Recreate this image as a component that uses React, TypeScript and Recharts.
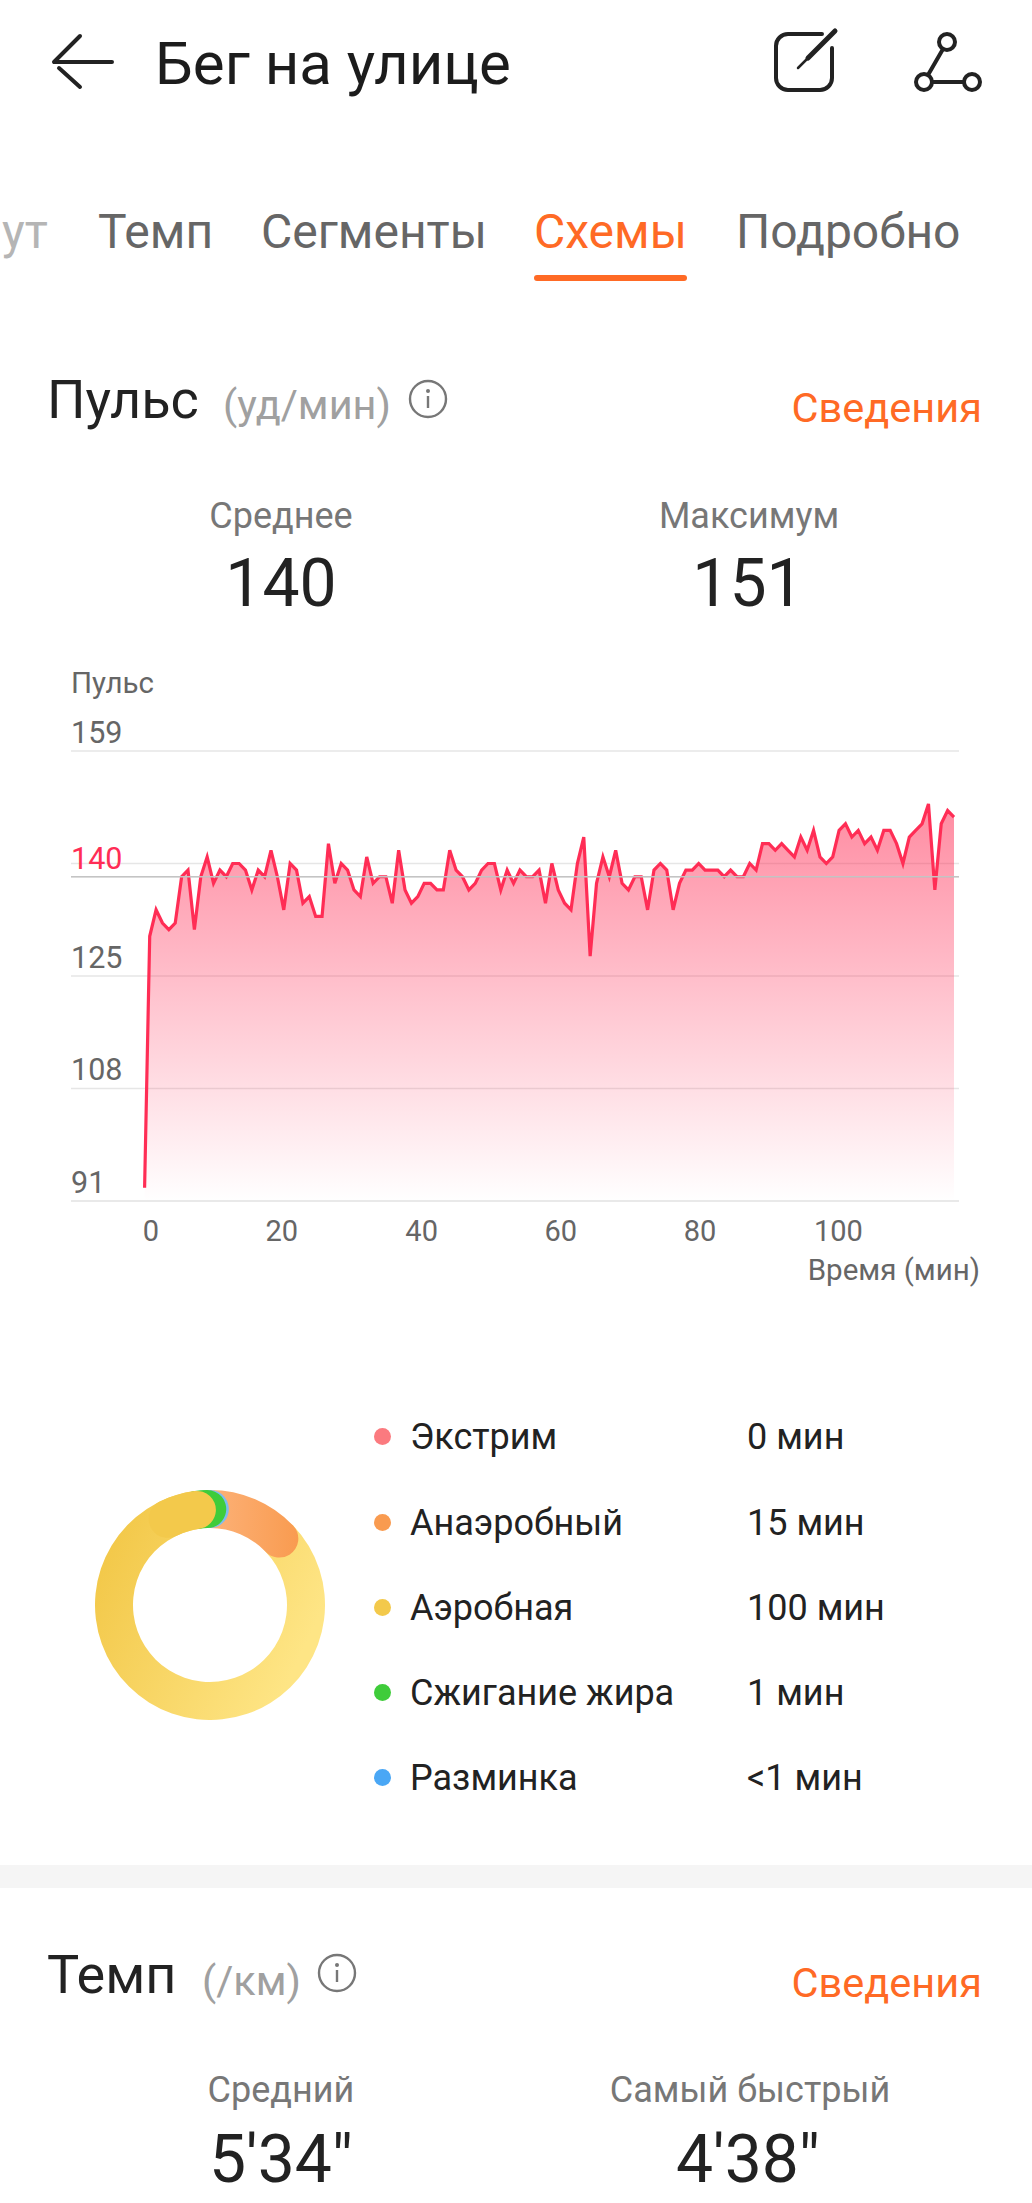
import React from "react";
import { ComposedChart, Area, XAxis, YAxis, CartesianGrid, ReferenceLine, PieChart, Pie } from "recharts";

const heartRate = [
  93, 131, 135, 133, 132, 133, 140, 141, 132, 140, 143, 139, 141, 140, 142, 142,
  141, 138, 141, 140, 144, 140, 135, 142, 141, 136, 137, 134, 134, 145, 139, 142,
  141, 138, 137, 143, 139, 140, 140, 136, 144, 138, 136, 137, 139, 139, 138, 138,
  144, 141, 140, 138, 139, 141, 142, 142, 138, 141, 139, 141, 140, 140, 141, 136,
  142, 138, 136, 135, 142, 146, 128, 139, 143, 140, 144, 139, 138, 140, 140, 135,
  141, 142, 141, 135, 139, 141, 141, 142, 141, 141, 141, 140, 141, 140, 140, 142,
  141, 145, 145, 144, 145, 144, 143, 146, 144, 147, 143, 142, 143, 147, 148, 146,
  147, 145, 146, 144, 147, 147, 145, 142, 146, 147, 148, 151, 138, 148, 150, 149,
];
const yTicks = [91, 108, 125, 140, 142, 159];
const xTickSamples = [1.2, 21.7, 43.6, 65.4, 87.2, 108.9];
const xTickLabels = ["0", "20", "40", "60", "80", "100"];
const AVERAGE = 140;

const zoneNames = ["Экстрим", "Анаэробный", "Аэробная", "Сжигание жира", "Разминка"];
const zoneLabels = ["0 мин", "15 мин", "100 мин", "1 мин", "<1 мин"];
const zoneColors = ["#fb7a7f", "#f99b50", "#f3c94b", "#3fcc3a", "#4aa7f5"];
const zoneRowY = [1437, 1523, 1608, 1693, 1778];

// ring order clockwise from the top, minutes per zone as drawn
const ringMinutes = [15, 99, 2, 0.5];

const ORANGE = "#ff6a25";
const FONT = "Roboto, sans-serif";

const chartData = heartRate.map((bpm, i) => ({ x: i === 0 ? 0.2 : i, bpm }));

function T({ x, y, size, color = "#222", anchor = "start", children }: any) {
  const tx = anchor === "center" ? "-50%" : anchor === "end" ? "-100%" : "0";
  return (
    <div
      style={{
        position: "absolute",
        left: x,
        top: y,
        fontSize: size,
        color,
        lineHeight: 1,
        whiteSpace: "nowrap",
        transform: `translate(${tx}, -50%)`,
      }}
    >
      {children}
    </div>
  );
}

function InfoIcon({ x, y }: { x: number; y: number }) {
  return (
    <svg style={{ position: "absolute", left: x - 20, top: y - 20 }} width={40} height={40}>
      <circle cx={20} cy={20} r={18} fill="none" stroke="#777" strokeWidth={2.4} />
      <circle cx={20} cy={12} r={2} fill="#777" />
      <line x1={20} y1={17} x2={20} y2={29} stroke="#777" strokeWidth={2.4} />
    </svg>
  );
}

function YTick({ y, payload }: any) {
  if (payload.value === 142) return null;
  const isAvg = payload.value === AVERAGE;
  return (
    <text x={71} y={y - 19} dy="0.36em" fontSize={30.5} fontFamily={FONT} fill={isAvg ? "#ff2d55" : "#666"}>
      {payload.value}
    </text>
  );
}

function HeartChart() {
  return (
    <ComposedChart
      width={1032}
      height={600}
      data={chartData}
      margin={{ top: 50, right: 73, bottom: 40, left: 70 }}
    >
      <defs>
        <linearGradient id="heartFill" x1="0" y1="0" x2="0" y2="1">
          <stop offset="0%" stopColor="#ff2d55" stopOpacity={0.55} />
          <stop offset="100%" stopColor="#ff2d55" stopOpacity={0} />
        </linearGradient>
      </defs>
      <CartesianGrid vertical={false} stroke="#e6e6e6" strokeWidth={1.5} />
      <XAxis
        dataKey="x"
        type="number"
        domain={[0.2, 127]}
        ticks={xTickSamples}
        interval={0}
        padding={{ left: 73.6, right: 5 }}
        height={60}
        tickLine={false}
        tickMargin={13}
        axisLine={{ stroke: "#e8e8e8", strokeWidth: 1.5 }}
        tick={{ fontSize: 29, fontFamily: FONT, fill: "#666" }}
        tickFormatter={(v: number) => xTickLabels[xTickSamples.indexOf(v)]}
      />
      <YAxis
        type="number"
        width={1}
        domain={[91, 159]}
        ticks={yTicks}
        interval={0}
        axisLine={false}
        tickLine={false}
        tick={<YTick />}
      />
      <Area
        dataKey="bpm"
        type="linear"
        stroke="#ff2d55"
        strokeWidth={3.2}
        fill="url(#heartFill)"
        fillOpacity={1}
        dot={false}
        activeDot={false}
        isAnimationActive={false}
      />
      <ReferenceLine y={AVERAGE} stroke="#c4c4c4" strokeWidth={1.5} />
    </ComposedChart>
  );
}

// minutes -> degrees, clockwise from the top; recharts wants 90 - deg
const DEG_PER_MIN = 360 / ringMinutes.reduce((a, b) => a + b, 0);
const CAP_DEG = 11.3; // rounded ends stick out past the zone boundary

function ringSlice(fromMin: number, toMin: number) {
  return {
    startAngle: 90 - (fromMin * DEG_PER_MIN - CAP_DEG),
    endAngle: 90 - (toMin * DEG_PER_MIN + CAP_DEG),
  };
}

function ZoneRing() {
  const ring = { cx: 115, cy: 115, innerRadius: 77, outerRadius: 115, cornerRadius: 19, stroke: "none", dataKey: "v", isAnimationActive: false };
  const [anaerobic, aerobic, fat, warm] = ringMinutes;
  const aerobicEnd = anaerobic + aerobic;
  return (
    <PieChart width={230} height={230} margin={{ top: 0, right: 0, bottom: 0, left: 0 }}>
      <defs>
        <linearGradient id="aerobicFill" x1="0.95" y1="0.6" x2="0.1" y2="0.2">
          <stop offset="0%" stopColor="#fee585" />
          <stop offset="100%" stopColor="#f3c94b" />
        </linearGradient>
        <linearGradient id="anaerobicFill" x1="0" y1="0" x2="1" y2="0">
          <stop offset="0%" stopColor="#fdb680" />
          <stop offset="100%" stopColor="#f99b50" />
        </linearGradient>
      </defs>
      <Pie {...ring} data={[{ v: aerobic }]} fill="url(#aerobicFill)" {...ringSlice(anaerobic, aerobicEnd)} />
      <Pie {...ring} data={[{ v: anaerobic }]} fill="url(#anaerobicFill)" {...ringSlice(0, anaerobic)} />
      <Pie {...ring} data={[{ v: warm }]} fill="#7cbdf0" {...ringSlice(aerobicEnd + fat, aerobicEnd + fat + warm)} />
      <Pie {...ring} data={[{ v: fat }]} fill="#3fcc3a" {...ringSlice(aerobicEnd, aerobicEnd + fat)} />
      {/* the aerobic end has to sit over green again, so its last stretch is drawn twice */}
      <Pie {...ring} data={[{ v: 6 }]} fill="#f3c94b" {...ringSlice(aerobicEnd - 6, aerobicEnd)} />
    </PieChart>
  );
}

export default function App() {
  return (
    <div style={{ position: "absolute", left: 0, top: 0, width: 1032, height: 2203, overflow: "hidden", background: "#fff", fontFamily: FONT }}>
      {/* top bar */}
      <svg style={{ position: "absolute", left: 0, top: 0 }} width={1032} height={110} fill="none" stroke="#222" strokeWidth={4} strokeLinecap="round" strokeLinejoin="round">
        <path d="M80 36 L54 62 H112" />
        <path d="M59 68 L80 87" />
        <path d="M822 34 H788 a12 12 0 0 0 -12 12 V78 a12 12 0 0 0 12 12 H820 a12 12 0 0 0 12 -12 V48" />
        <path d="M835 31 L808 58" strokeWidth={5} />
        <path d="M808 58 L798 68" strokeWidth={2.5} />
        <circle cx={947} cy={42} r={8} />
        <circle cx={924} cy={82} r={8} />
        <circle cx={972} cy={82} r={8} />
        <path d="M943 49 L928 75 M932 82 H964" />
      </svg>
      <T x={155} y={64} size={60} color="#1c1c1c">Бег на улице</T>

      {/* tabs */}
      <T x={2} y={232} size={48} color="#b5b5b5">ут</T>
      <T x={98} y={232} size={48} color="#666">Темп</T>
      <T x={261} y={232} size={48} color="#666">Сегменты</T>
      <T x={534} y={232} size={48} color={ORANGE}>Схемы</T>
      <T x={736} y={232} size={48} color="#666">Подробно</T>
      <div style={{ position: "absolute", left: 534, top: 275, width: 153, height: 6, borderRadius: 3, background: ORANGE }} />

      {/* heart rate section */}
      <T x={47} y={400} size={54}>Пульс</T>
      <T x={223} y={405} size={41.5} color="#a0a0a0">(уд/мин)</T>
      <InfoIcon x={428} y={399} />
      <T x={982} y={408} size={41.5} color={ORANGE} anchor="end">Сведения</T>
      <T x={281} y={516} size={36} color="#777" anchor="center">Среднее</T>
      <T x={281} y={584} size={66} anchor="center">140</T>
      <T x={749} y={516} size={36} color="#777" anchor="center">Максимум</T>
      <T x={748} y={584} size={66} anchor="center">151</T>

      <T x={71} y={684} size={29.5} color="#666">Пульс</T>
      <div style={{ position: "absolute", left: 0, top: 701 }}>
        <HeartChart />
      </div>
      <T x={980} y={1271} size={29.5} color="#666" anchor="end">Время (мин)</T>

      {/* zones */}
      <div style={{ position: "absolute", left: 95, top: 1490 }}>
        <ZoneRing />
      </div>
      {zoneNames.map((name, i) => (
        <React.Fragment key={name}>
          <div style={{ position: "absolute", left: 374, top: zoneRowY[i] - 9.5, width: 17, height: 17, borderRadius: "50%", background: zoneColors[i] }} />
          <T x={410} y={zoneRowY[i]} size={36}>{name}</T>
          <T x={747} y={zoneRowY[i]} size={36}>{zoneLabels[i]}</T>
        </React.Fragment>
      ))}

      <div style={{ position: "absolute", left: 0, top: 1865, width: 1032, height: 23, background: "#f5f5f5" }} />

      {/* pace section */}
      <T x={47} y={1975} size={54}>Темп</T>
      <T x={202} y={1981} size={41.5} color="#a0a0a0">(/км)</T>
      <InfoIcon x={337} y={1973} />
      <T x={982} y={1983} size={41.5} color={ORANGE} anchor="end">Сведения</T>
      <T x={281} y={2090} size={36} color="#777" anchor="center">Средний</T>
      <T x={281} y={2160} size={66} anchor="center">5'34"</T>
      <T x={750} y={2090} size={36} color="#777" anchor="center">Самый быстрый</T>
      <T x={748} y={2160} size={66} anchor="center">4'38"</T>
    </div>
  );
}
